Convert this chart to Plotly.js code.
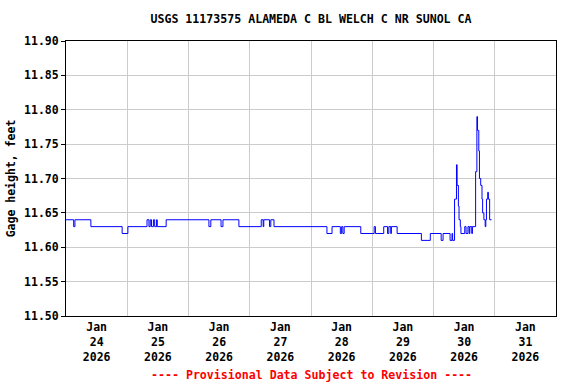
<!DOCTYPE html>
<html>
<head>
<meta charset="utf-8">
<script src="https://cdn.plot.ly/plotly-3.0.1.min.js"></script>
<style>html,body{margin:0;padding:0;background:#fff;}#chart{width:576px;height:384px;}</style>
</head>
<body>
<div id="chart"></div>
<script>
// Gage height readings (value holds until next time stamp)
const times = [
  "2026-01-24 00:00","2026-01-24 03:00","2026-01-24 03:30","2026-01-24 09:45","2026-01-24 22:00",
  "2026-01-25 00:15","2026-01-25 07:45","2026-01-25 08:30","2026-01-25 09:00","2026-01-25 09:30",
  "2026-01-25 10:15","2026-01-25 10:45","2026-01-25 11:30","2026-01-25 11:45","2026-01-25 15:15",
  "2026-01-26 08:00","2026-01-26 08:45","2026-01-26 12:45","2026-01-26 13:30","2026-01-26 19:45",
  "2026-01-27 04:30","2026-01-27 05:15","2026-01-27 05:30","2026-01-27 07:45","2026-01-27 08:15",
  "2026-01-27 09:30","2026-01-28 06:15","2026-01-28 08:15","2026-01-28 11:30","2026-01-28 12:00",
  "2026-01-28 12:30","2026-01-28 13:00","2026-01-28 19:30","2026-01-29 00:45","2026-01-29 01:15",
  "2026-01-29 04:30","2026-01-29 06:00","2026-01-29 06:30","2026-01-29 07:15","2026-01-29 07:30",
  "2026-01-29 09:45","2026-01-29 19:15","2026-01-29 22:45","2026-01-30 03:00","2026-01-30 03:45",
  "2026-01-30 06:30","2026-01-30 07:15","2026-01-30 07:30","2026-01-30 08:15","2026-01-30 09:00",
  "2026-01-30 09:15","2026-01-30 09:45","2026-01-30 10:00","2026-01-30 10:30","2026-01-30 10:45",
  "2026-01-30 12:15","2026-01-30 12:45","2026-01-30 13:30","2026-01-30 14:00","2026-01-30 14:15",
  "2026-01-30 15:00","2026-01-30 15:15","2026-01-30 16:30","2026-01-30 17:00","2026-01-30 17:15",
  "2026-01-30 17:45","2026-01-30 18:00","2026-01-30 18:30","2026-01-30 19:00","2026-01-30 19:15",
  "2026-01-30 19:45","2026-01-30 20:15","2026-01-30 20:30","2026-01-30 20:45","2026-01-30 21:15",
  "2026-01-30 21:30","2026-01-30 22:00","2026-01-30 22:45"
];
const gageHeight = [
  11.64,11.63,11.64,11.63,11.62,
  11.63,11.64,11.63,11.64,11.63,
  11.64,11.63,11.64,11.63,11.64,
  11.63,11.64,11.63,11.64,11.63,
  11.64,11.63,11.64,11.63,11.64,
  11.63,11.62,11.63,11.62,11.63,
  11.62,11.63,11.62,11.63,11.62,
  11.63,11.62,11.63,11.62,11.63,
  11.62,11.61,11.62,11.61,11.62,
  11.61,11.62,11.61,11.67,11.72,
  11.69,11.66,11.64,11.63,11.62,
  11.63,11.62,11.63,11.62,11.63,
  11.62,11.63,11.71,11.79,11.77,
  11.74,11.70,11.69,11.67,11.65,
  11.64,11.63,11.64,11.67,11.68,
  11.67,11.64,11.64
];
const tickDates = ["2026-01-24 12:00","2026-01-25 12:00","2026-01-26 12:00","2026-01-27 12:00",
                   "2026-01-28 12:00","2026-01-29 12:00","2026-01-30 12:00","2026-01-31 12:00"];
const tickLabels = ["Jan<br>24<br>2026","Jan<br>25<br>2026","Jan<br>26<br>2026","Jan<br>27<br>2026",
                    "Jan<br>28<br>2026","Jan<br>29<br>2026","Jan<br>30<br>2026","Jan<br>31<br>2026"];
const titleText = "USGS 11173575 ALAMEDA C BL WELCH C NR SUNOL CA";
const yTitle = "Gage height, feet";
const footer = "---- Provisional Data Subject to Revision ----";

const F = "DejaVu Sans Mono, monospace";
const trace = {
  x: times, y: gageHeight, type: "scatter", mode: "lines",
  line: {color: "#0000ff", width: 1, shape: "hv"}, hoverinfo: "skip"
};
const layout = {
  width: 576, height: 384,
  margin: {l: 66, r: 20, t: 41, b: 68},
  paper_bgcolor: "#ffffff", plot_bgcolor: "#ffffff",
  showlegend: false,
  title: {text: titleText, x: 0.5, xref: "paper", y: 1 - 19/384, yref: "container", yanchor: "middle",
          font: {family: F, size: 11.6, color: "#000", weight: "bold"}},
  xaxis: {
    type: "date", range: ["2026-01-24 00:00", "2026-02-01 00:00"],
    tickmode: "array", tickvals: tickDates, ticktext: tickLabels,
    showgrid: false, ticks: "", zeroline: false,
    showline: true, mirror: true, linecolor: "#000", linewidth: 1,
    tickfont: {family: F, size: 11.5, color: "#000", weight: "bold"},
    minor: {tickmode: "linear", tick0: "2026-01-24 00:00", dtick: 86400000, showgrid: true,
            gridcolor: "#cccccc", gridwidth: 1, ticks: ""}
  },
  yaxis: {
    range: [11.50, 11.90], dtick: 0.05, tick0: 11.50, tickformat: ".2f",
    showgrid: true, gridcolor: "#cccccc", gridwidth: 1, zeroline: false,
    ticks: "outside", ticklen: 4, tickcolor: "#000",
    showline: true, mirror: true, linecolor: "#000", linewidth: 1,
    tickfont: {family: F, size: 11.5, color: "#000", weight: "bold"},
    title: {text: yTitle, standoff: 6, font: {family: F, size: 11.5, color: "#000", weight: "bold"}}
  },
  annotations: [{
    text: footer, xref: "paper", yref: "paper", x: 0.5, y: -(375-316)/275, yanchor: "middle",
    showarrow: false, font: {family: F, size: 11.6, color: "#ff0000", weight: "bold"}
  }]
};
Plotly.newPlot("chart", [trace], layout, {staticPlot: true, displayModeBar: false});
</script>
</body>
</html>
